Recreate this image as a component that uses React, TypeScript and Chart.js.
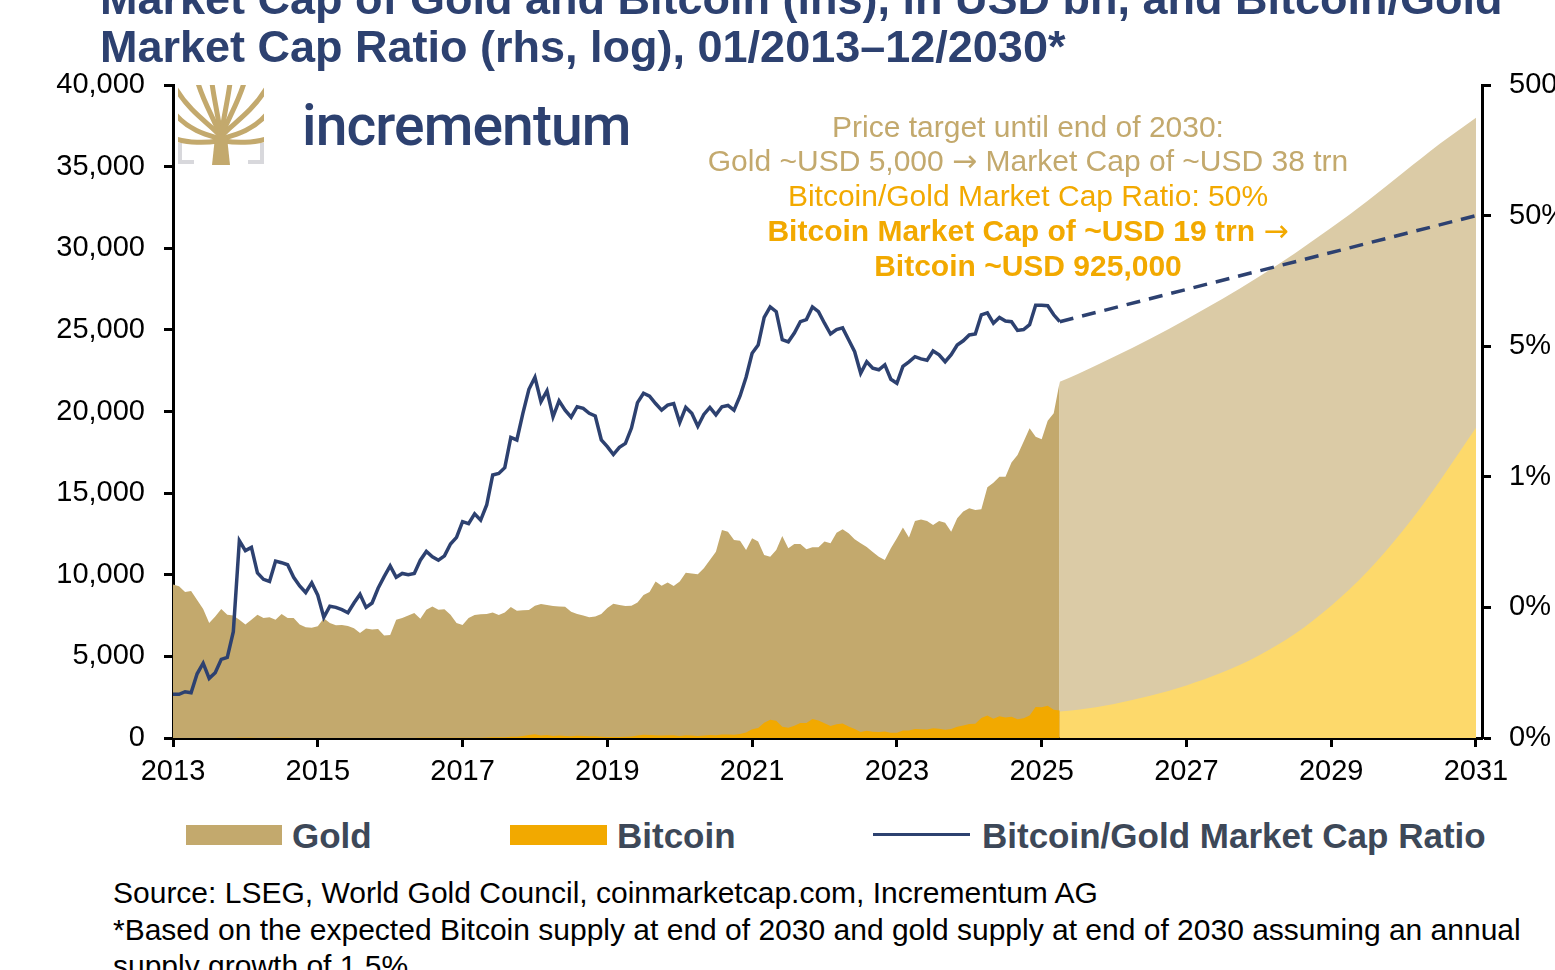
import React, { useEffect, useRef } from 'react';
import { Chart, registerables } from 'chart.js';

Chart.register(...registerables);

// monthly values from 01/2013, USD bn
const goldHist = [
	9400, 9300, 8950, 9000, 8450, 7900, 7050, 7450, 7900, 7550, 7500, 7250,
	6950, 7250, 7550, 7350, 7400, 7250, 7600, 7350, 7350, 6950, 6780, 6760,
	6850, 7330, 7050, 6900, 6920, 6860, 6720, 6430, 6700, 6640, 6680, 6280,
	6310, 7250, 7350, 7500, 7650, 7300, 7850, 8050, 7850, 7880, 7550, 7050,
	6920, 7350, 7530, 7580, 7600, 7680, 7530, 7680, 8020, 7800, 7820, 7840,
	8100, 8210, 8150, 8080, 8050, 8040, 7740, 7600, 7500, 7400, 7450, 7600,
	7960, 8230, 8150, 8080, 8100, 8300, 8760, 8950, 9580, 9330, 9530, 9310,
	9580, 10130, 10080, 10030, 10400, 10900, 11410, 12740, 12640, 12130, 12080, 11520,
	12230, 12030, 11210, 11110, 11520, 12370, 11620, 11880, 11880, 11560, 11680, 11680,
	12030, 11930, 12580, 12790, 12540, 12170, 11930, 11700, 11400, 11100, 10900, 11620,
	12230, 12900, 12280, 13290, 13390, 13290, 13050, 13290, 13190, 12640, 13460, 13870,
	14070, 13970, 14010, 15360, 15640, 16010, 16010, 16870, 17340, 18150, 18970, 18460,
	18300, 19440, 19890, 21830,
];

const bitcoinHist = [
	1.0, 1.0, 1.0, 1.0, 1.3, 1.5, 1.0, 1.2, 1.6, 1.6, 2.4, 11.7,
	9.5, 10.4, 6.9, 6.0, 5.8, 8.2, 8.4, 7.8, 6.2, 5.1, 4.4, 5.2,
	4.2, 3.1, 3.6, 3.5, 3.3, 3.1, 3.6, 4.1, 3.4, 3.6, 4.7, 5.4,
	6.6, 6.2, 6.7, 6.7, 7.0, 8.4, 10.5, 9.8, 9.0, 9.8, 11.6, 12.1,
	15.7, 16.1, 19.6, 17.7, 23.1, 39.6, 39.9, 45.1, 80.2, 74.6, 119.6, 183.5,
	234, 154, 186, 116, 154, 130, 111, 131, 125, 113, 109, 73,
	68, 61, 68, 73, 96, 153, 192, 188, 174, 151, 169, 169,
	125, 172, 154, 122, 156, 189, 170, 219, 222, 197, 251, 333,
	539, 614, 930, 1111, 1060, 693, 627, 748, 915, 925, 1168, 1075,
	902, 740, 843, 883, 702, 553, 370, 445, 386, 366, 392, 324,
	318, 452, 467, 553, 536, 518, 600, 571, 501, 544, 686, 763,
	858, 866, 1219, 1382, 1173, 1329, 1249, 1299, 1144, 1216, 1385, 1901,
	1885, 1983, 1730, 1681,
];

// Bitcoin/Gold market cap ratio, in %
const ratioHist = [
	0.0108, 0.0108, 0.0113, 0.0111, 0.0155, 0.0187, 0.0143, 0.0158, 0.02, 0.0207, 0.0326, 0.162,
	0.136, 0.144, 0.092, 0.082, 0.079, 0.113, 0.11, 0.106, 0.085, 0.073, 0.065, 0.077,
	0.062, 0.042, 0.051, 0.05, 0.048, 0.0455, 0.054, 0.063, 0.05, 0.054, 0.07, 0.086,
	0.104, 0.085, 0.091, 0.089, 0.091, 0.115, 0.134, 0.122, 0.115, 0.124, 0.153, 0.172,
	0.227, 0.219, 0.26, 0.233, 0.304, 0.516, 0.53, 0.587, 1.0, 0.957, 1.53, 2.34,
	2.89, 1.88, 2.28, 1.44, 1.91, 1.62, 1.43, 1.72, 1.67, 1.53, 1.46, 0.96,
	0.85, 0.74, 0.84, 0.9, 1.18, 1.85, 2.18, 2.07, 1.82, 1.62, 1.77, 1.82,
	1.3, 1.7, 1.53, 1.22, 1.5, 1.7, 1.49, 1.72, 1.76, 1.62, 2.08, 2.89,
	4.41, 5.1, 8.3, 10.0, 9.2, 5.6, 5.4, 6.3, 7.7, 8.0, 10.0, 9.2,
	7.5, 6.2, 6.7, 6.9, 5.6, 4.54, 3.1, 3.8, 3.39, 3.3, 3.6, 2.79,
	2.6, 3.5, 3.8, 4.16, 4.0, 3.9, 4.6, 4.3, 3.8, 4.3, 5.1, 5.5,
	6.1, 6.2, 8.7, 9.0, 7.5, 8.3, 7.8, 7.7, 6.6, 6.7, 7.3, 10.3,
	10.3, 10.2, 8.7, 7.7,
];

// projection to end of 2030
const projYears = [2025.25, 2025.5, 2026, 2026.5, 2027, 2027.5, 2028, 2028.5, 2029, 2029.5, 2030, 2030.5, 2031];
const goldProj = [21830, 22300, 23350, 24450, 25650, 26900, 28250, 29700, 31250, 32900, 34650, 36400, 38000];
const bitcoinProj = [1630, 1730, 2090, 2590, 3220, 4020, 5050, 6380, 8100, 10200, 12750, 15750, 19000];
const ratioProjYears = [2025.25, 2031];
const ratioProj = [7.7, 50];

const yearTicks = [2013, 2015, 2017, 2019, 2021, 2023, 2025, 2027, 2029, 2031];
const ratioTicks = [0.005, 0.05, 0.5, 5, 50, 500];

const NAVY = '#2D4170';
const GOLD = '#C3A96D';
const GOLD_LIGHT = '#DBCBA6';
const BTC = '#F2A900';
const BTC_LIGHT = '#FDD96B';
const FONT = '"Liberation Sans", Arial, sans-serif';

const histPoints = (vals: number[]) => vals.map((v, i) => ({ x: 2013 + i / 12, y: v }));
const projPoints = (xs: number[], vals: number[]) => xs.map((x, i) => ({ x, y: vals[i] }));

const BitcoinGoldChart: React.FC = () => {
	const chartRef = useRef<HTMLCanvasElement | null>(null);
	const chartInstanceRef = useRef<Chart | null>(null);

	useEffect(() => {
		if (!chartRef.current) return;
		const ctx = chartRef.current.getContext('2d');
		if (!ctx) return;

		const axisLook = {
			border: { display: true, color: '#000', width: 3 },
			grid: { drawOnChartArea: false, drawTicks: true, tickLength: 9, tickWidth: 3, tickColor: '#000' },
		};
		const tickFont = { family: FONT, size: 29 };

		const config: any = {
			type: 'line',
			data: {
				datasets: [
					{
						label: 'Bitcoin/Gold Market Cap Ratio',
						data: histPoints(ratioHist),
						yAxisID: 'y2',
						borderColor: NAVY,
						borderWidth: 3.5,
						pointRadius: 0,
						fill: false,
						order: 0,
					},
					{
						label: 'Ratio projection',
						data: projPoints(ratioProjYears, ratioProj),
						yAxisID: 'y2',
						borderColor: NAVY,
						borderWidth: 3.5,
						borderDash: [14, 9],
						pointRadius: 0,
						fill: false,
						order: 1,
					},
					{
						label: 'Bitcoin',
						data: histPoints(bitcoinHist),
						yAxisID: 'y',
						borderColor: 'rgba(0,0,0,0)',
						backgroundColor: BTC,
						pointRadius: 0,
						fill: 'origin',
						order: 2,
					},
					{
						label: 'Bitcoin projection',
						data: projPoints(projYears, bitcoinProj),
						yAxisID: 'y',
						borderColor: 'rgba(0,0,0,0)',
						backgroundColor: BTC_LIGHT,
						pointRadius: 0,
						fill: 'origin',
						cubicInterpolationMode: 'monotone',
						order: 3,
					},
					{
						label: 'Gold',
						data: histPoints(goldHist),
						yAxisID: 'y',
						borderColor: 'rgba(0,0,0,0)',
						backgroundColor: GOLD,
						pointRadius: 0,
						fill: 'origin',
						order: 4,
					},
					{
						label: 'Gold projection',
						data: projPoints(projYears, goldProj),
						yAxisID: 'y',
						borderColor: 'rgba(0,0,0,0)',
						backgroundColor: GOLD_LIGHT,
						pointRadius: 0,
						fill: 'origin',
						cubicInterpolationMode: 'monotone',
						order: 5,
					},
				],
			},
			options: {
				responsive: false,
				animation: false,
				layout: { padding: { top: 85, left: 0, right: 0, bottom: 0 } },
				scales: {
					x: {
						type: 'linear',
						min: 2013,
						max: 2031.083,
						...axisLook,
						afterBuildTicks: (scale: any) => {
							scale.ticks = yearTicks.map((v) => ({ value: v }));
						},
						afterFit: (scale: any) => {
							scale.height = 62;
						},
						ticks: {
							autoSkip: false,
							maxRotation: 0,
							font: tickFont,
							color: '#000',
							padding: 8,
							callback: (v: any) => String(v),
						},
					},
					y: {
						position: 'left',
						min: 0,
						max: 40000,
						...axisLook,
						afterFit: (scale: any) => {
							scale.width = 173;
						},
						ticks: {
							stepSize: 5000,
							font: tickFont,
							color: '#000',
							padding: 19,
							callback: (v: any) => Number(v).toLocaleString('en-US'),
						},
					},
					y2: {
						type: 'logarithmic',
						position: 'right',
						min: 0.005,
						max: 500,
						...axisLook,
						afterBuildTicks: (scale: any) => {
							scale.ticks = ratioTicks.map((v) => ({ value: v }));
						},
						afterFit: (scale: any) => {
							scale.width = 73;
						},
						ticks: {
							font: tickFont,
							color: '#000',
							padding: 18,
							callback: (v: any) => Math.round(Number(v)) + '%',
						},
					},
				},
				plugins: {
					legend: { display: false },
					tooltip: { enabled: false },
					filler: { propagate: false },
				},
			},
		};

		if (chartInstanceRef.current) {
			chartInstanceRef.current.destroy();
		}
		chartInstanceRef.current = new Chart(ctx, config);

		return () => {
			if (chartInstanceRef.current) {
				chartInstanceRef.current.destroy();
				chartInstanceRef.current = null;
			}
		};
	}, []);

	return <canvas ref={chartRef} width={1555} height={800} style={{ position: 'absolute', left: 0, top: 0 }} />;
};

const TreeLogo: React.FC = () => (
	<svg width={86} height={80} viewBox="0 0 86 80" style={{ position: 'absolute', left: 178, top: 85 }}>
		<defs>
			<clipPath id="crown">
				<rect x={0} y={0} width={86} height={60} />
			</clipPath>
		</defs>
		<path d="M2 58 V77 H16 M70 77 H84 V58" stroke="#D8D8DC" strokeWidth={4} fill="none" />
		<g stroke={GOLD} strokeWidth={5} fill="none" clipPath="url(#crown)">
			<path d="M43 52 C34 40 14 30 -2 4" />
			<path d="M43 52 C36 34 26 18 20 -2" />
			<path d="M43 52 C40 30 36 14 34 -2" />
			<path d="M43 52 C46 30 50 14 52 -2" />
			<path d="M43 52 C50 34 60 18 66 -2" />
			<path d="M43 52 C52 40 72 30 88 4" />
			<path d="M43 54 C30 50 12 46 -2 30" />
			<path d="M43 54 C56 50 74 46 88 30" />
			<path d="M40 56 C28 58 10 58 -2 54" />
			<path d="M46 56 C58 58 76 58 88 54" />
		</g>
		<path d="M34 80 L37 52 Q43 46 49 52 L52 80 Z" fill={GOLD} />
	</svg>
);

const Arrow: React.FC = () => <span style={{ fontFamily: '"DejaVu Sans", sans-serif', fontWeight: 'normal' }}>→</span>;

const App: React.FC = () => {
	const annot = (top: number, content: React.ReactNode, color: string, bold: boolean) => (
		<div
			style={{
				position: 'absolute',
				left: 628,
				width: 800,
				top,
				textAlign: 'center',
				fontSize: 30,
				lineHeight: '34px',
				fontWeight: bold ? 'bold' : 'normal',
				color,
				whiteSpace: 'nowrap',
			}}
		>
			{content}
		</div>
	);

	const legendText: React.CSSProperties = {
		position: 'absolute',
		top: 816,
		fontSize: 35,
		lineHeight: '40px',
		fontWeight: 'bold',
		color: '#3D4858',
		whiteSpace: 'nowrap',
	};

	return (
		<div
			style={{
				position: 'absolute',
				left: 0,
				top: 0,
				width: 1555,
				height: 970,
				overflow: 'hidden',
				background: '#fff',
				fontFamily: FONT,
			}}
		>
			<BitcoinGoldChart />

			<div
				style={{
					position: 'absolute',
					left: 100,
					top: -25,
					fontSize: 45,
					lineHeight: '48px',
					fontWeight: 'bold',
					color: NAVY,
					whiteSpace: 'nowrap',
				}}
			>
				Market Cap of Gold and Bitcoin (lhs), in USD bn, and Bitcoin/Gold
				<br />
				Market Cap Ratio (rhs, log), 01/2013–12/2030*
			</div>

			<TreeLogo />
			<div
				style={{
					position: 'absolute',
					left: 302,
					top: 98,
					fontFamily: 'Roboto, sans-serif',
					fontWeight: 500,
					fontSize: 57,
					lineHeight: '56px',
					letterSpacing: -0.9,
					color: NAVY,
				}}
			>
				incrementum
			</div>

			{annot(110, 'Price target until end of 2030:', GOLD, false)}
			{annot(144, <>Gold ~USD 5,000 <Arrow /> Market Cap of ~USD 38 trn</>, GOLD, false)}
			{annot(179, 'Bitcoin/Gold Market Cap Ratio: 50%', BTC, false)}
			{annot(214, <>Bitcoin Market Cap of ~USD 19 trn <Arrow /></>, BTC, true)}
			{annot(249, 'Bitcoin ~USD 925,000', BTC, true)}

			<div style={{ position: 'absolute', left: 186, top: 825, width: 96, height: 20, background: GOLD }} />
			<div style={{ ...legendText, left: 292 }}>Gold</div>
			<div style={{ position: 'absolute', left: 510, top: 825, width: 97, height: 20, background: BTC }} />
			<div style={{ ...legendText, left: 617 }}>Bitcoin</div>
			<div style={{ position: 'absolute', left: 873, top: 833, width: 97, height: 3, background: NAVY }} />
			<div style={{ ...legendText, left: 982 }}>Bitcoin/Gold Market Cap Ratio</div>

			<div
				style={{
					position: 'absolute',
					left: 113,
					top: 875,
					fontSize: 30,
					lineHeight: '36.5px',
					color: '#000',
					whiteSpace: 'nowrap',
				}}
			>
				Source: LSEG, World Gold Council, coinmarketcap.com, Incrementum AG
				<br />
				*Based on the expected Bitcoin supply at end of 2030 and gold supply at end of 2030 assuming an annual
				<br />
				supply growth of 1.5%
			</div>
		</div>
	);
};

export default App;
